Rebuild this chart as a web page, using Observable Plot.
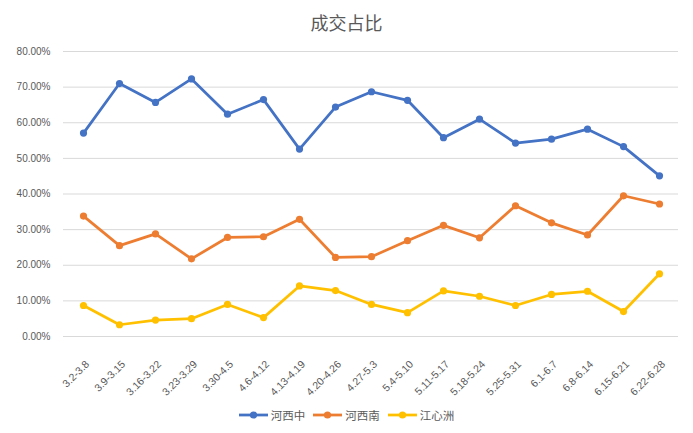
<!DOCTYPE html>
<html><head><meta charset="utf-8">
<script src="https://cdn.jsdelivr.net/npm/d3@7"></script>
<script src="https://cdn.jsdelivr.net/npm/@observablehq/plot@0.6"></script>
<style>
body{margin:0;background:#fff;font-family:"Liberation Sans","Noto Sans CJK SC",sans-serif;}
#title{height:40px;line-height:44px;text-align:center;font-size:18px;color:#595959;font-family:"Noto Sans CJK SC",sans-serif;}
#legend{height:30px;display:flex;justify-content:center;align-items:center;font-size:11.5px;color:#595959;font-family:"Noto Sans CJK SC",sans-serif;}
#legend .item{display:flex;align-items:center;margin:0 4px;}
#legend svg{margin-right:3px;}
</style></head>
<body>
<div id="title">成交占比</div>
<div id="chart"></div>
<div id="legend"></div>
<script>
const categories = ["3.2-3.8","3.9-3.15","3.16-3.22","3.23-3.29","3.30-4.5","4.6-4.12","4.13-4.19","4.20-4.26","4.27-5.3","5.4-5.10","5.11-5.17","5.18-5.24","5.25-5.31","6.1-6.7","6.8-6.14","6.15-6.21","6.22-6.28"];
const seriesNames = ["河西中","河西南","江心洲"];
const seriesColors = ["#4472C4","#ED7D31","#FFC000"];
const hexizhong = [57.1,71.0,65.7,72.3,62.4,66.5,52.6,64.4,68.7,66.3,55.8,61.0,54.3,55.4,58.2,53.3,45.1];
const hexinan = [33.8,25.5,28.8,21.8,27.8,28.0,32.9,22.2,22.4,26.9,31.2,27.7,36.7,31.9,28.5,39.5,37.2];
const jiangxinzhou = [8.7,3.3,4.6,5.0,9.0,5.3,14.2,12.9,9.0,6.7,12.8,11.3,8.7,11.8,12.7,7.0,17.6];
const yTicks = [0,10,20,30,40,50,60,70,80];

const seriesValues = [hexizhong, hexinan, jiangxinzhou];
const data = seriesNames.flatMap((s, si) => categories.map((c, i) => ({series: s, cat: c, value: seriesValues[si][i]})));

const chart = Plot.plot({
  width: 693,
  height: 360,
  marginTop: 11,
  marginBottom: 64,
  marginLeft: 63,
  marginRight: 15,
  style: {color: "#595959", fontFamily: "'Liberation Sans', sans-serif", fontSize: "10px", background: "#fff"},
  x: {type: "point", domain: categories, padding: 0.5},
  y: {domain: [0, 80]},
  color: {domain: seriesNames, range: seriesColors},
  marks: [
    Plot.ruleY(yTicks, {stroke: "#d9d9d9", strokeWidth: 1}),
    Plot.axisY({ticks: yTicks, tickSize: 0, tickPadding: 13, tickFormat: d => d.toFixed(2) + "%", label: null, fontSize: 10}),
    Plot.axisX({tickRotate: -45, tickSize: 0, tickPadding: 26, dx: 4, textAnchor: "end", lineAnchor: "middle", label: null, fontSize: 10.5}),
    Plot.line(data, {x: "cat", y: "value", z: "series", stroke: "series", strokeWidth: 2.75, curve: "linear"}),
    Plot.dot(data, {x: "cat", y: "value", fill: "series", r: 3.6, stroke: "none"})
  ]
});
document.getElementById("chart").appendChild(chart);

const legend = document.getElementById("legend");
seriesNames.forEach((s, i) => {
  const item = document.createElement("div");
  item.className = "item";
  item.innerHTML = `<svg width="29" height="10"><line x1="0" y1="5" x2="29" y2="5" stroke="${seriesColors[i]}" stroke-width="2.75"/><circle cx="14.5" cy="5" r="3.6" fill="${seriesColors[i]}"/></svg><span>${s}</span>`;
  legend.appendChild(item);
});
</script>
</body></html>
